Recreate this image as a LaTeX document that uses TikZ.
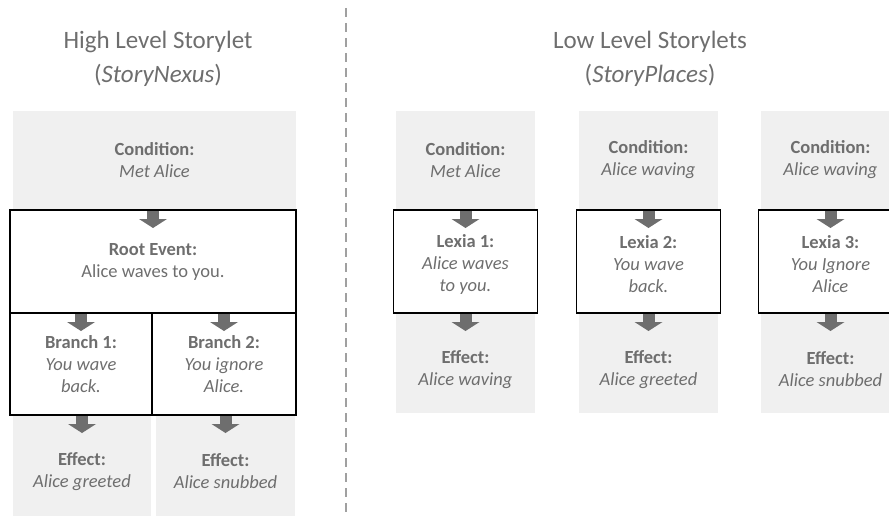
\documentclass[tikz,border=0pt]{standalone}
\usepackage{fontspec}
\setmainfont{Carlito}
\usetikzlibrary{arrows.meta, positioning}
\definecolor{TextGray}{HTML}{6E6E6E}
\definecolor{BoxGray}{HTML}{F0F0F0}
\definecolor{ArrowGray}{HTML}{6E6E6E}
\definecolor{RuleGray}{HTML}{A0A0A0}

\begin{document}
\begin{tikzpicture}[x=1pt, y=-1pt,
    every node/.style={text=TextGray, align=center, inner sep=0pt, outer sep=0pt,
        font=\fontsize{18.5}{22}\selectfont},
    heading/.style={font=\fontsize{25}{34}\selectfont},
    card/.style={rectangle, fill=BoxGray, anchor=north west},
    event/.style={rectangle, draw=black, line width=1.6pt, anchor=north west},
    flow/.style={draw=ArrowGray, line width=12pt,
        -{Triangle[length=9pt, width=28pt, line width=0pt]}}]
    \clip (0,0) rectangle (889,516);

    % Divider between the two halves
    \draw[RuleGray, line width=2.5pt, dash pattern=on 9pt off 6pt] (346,8) -- (346,516);

    % Headings
    \node[heading] (hightitle) at (158,59) {High Level Storylet\\(\textit{StoryNexus})};
    \node[heading] (lowtitle) at (650,59) {Low Level Storylets\\(\textit{StoryPlaces})};

    % High level storylet: one condition, a root event and two branches
    \node[card, minimum width=283pt, minimum height=98pt] (cond) at (13,111)
        {\textbf{Condition:}\\\textit{Met Alice}};
    \node[card, minimum width=138pt, minimum height=100pt] (effect1) at (13,416)
        {\rule{0pt}{24pt}\textbf{Effect:}\\\textit{Alice greeted}};
    \node[card, minimum width=139pt, minimum height=100pt] (effect2) at (156,416)
        {\rule{0pt}{24pt}\textbf{Effect:}\\\textit{Alice snubbed}};
    \node[event, minimum width=286pt, minimum height=103pt] (root) at (10,210)
        {\textbf{Root Event:}\\Alice waves to you.};
    \node[event, minimum width=142pt, minimum height=102pt] (branch1) at (10,313)
        {\textbf{Branch 1:}\\\textit{You wave}\\\textit{back.}};
    \node[event, minimum width=144pt, minimum height=102pt] (branch2) at (152,313)
        {\textbf{Branch 2:}\\\textit{You ignore}\\\textit{Alice.}};

    \draw[flow] (root.north) ++(0,1) -- ++(0,17);
    \draw[flow] (branch1.north) ++(0,1) -- ++(0,17);
    \draw[flow] (branch2.north) ++(0,1) -- ++(0,17);
    \draw[flow] (effect1.north) ++(0,0) -- ++(0,17);
    \draw[flow] (effect2.north) ++(0,0) -- ++(0,17);

    % Low level storylets, one column per lexia
    \foreach \cx/\cond/\lexa/\lexb/\eff [count=\i] in {
        465.5/Met Alice/Alice waves/to you./Alice waving,
        648.5/Alice waving/You wave/back./Alice greeted,
        830.5/Alice waving/You Ignore/Alice/Alice snubbed
    } {
        \node[card, minimum width=139pt, minimum height=98pt] (lcond\i) at (\cx-69.5,111)
            {\textbf{Condition:}\\\textit{\cond}};
        \node[card, minimum width=139pt, minimum height=100pt] (leffect\i) at (\cx-69.5,313)
            {\rule{0pt}{26pt}\textbf{Effect:}\\\textit{\eff}};
        \node[event, minimum width=144pt, minimum height=103pt] (lexia\i) at (\cx-72,210)
            {\rule{0pt}{18pt}\textbf{Lexia \i:}\\\textit{\lexa}\\\textit{\lexb}};
        \draw[flow] (lexia\i.north) ++(0,1) -- ++(0,17);
        \draw[flow] (lexia\i.south) ++(0,1) -- ++(0,17);
    }
\end{tikzpicture}
\end{document}
